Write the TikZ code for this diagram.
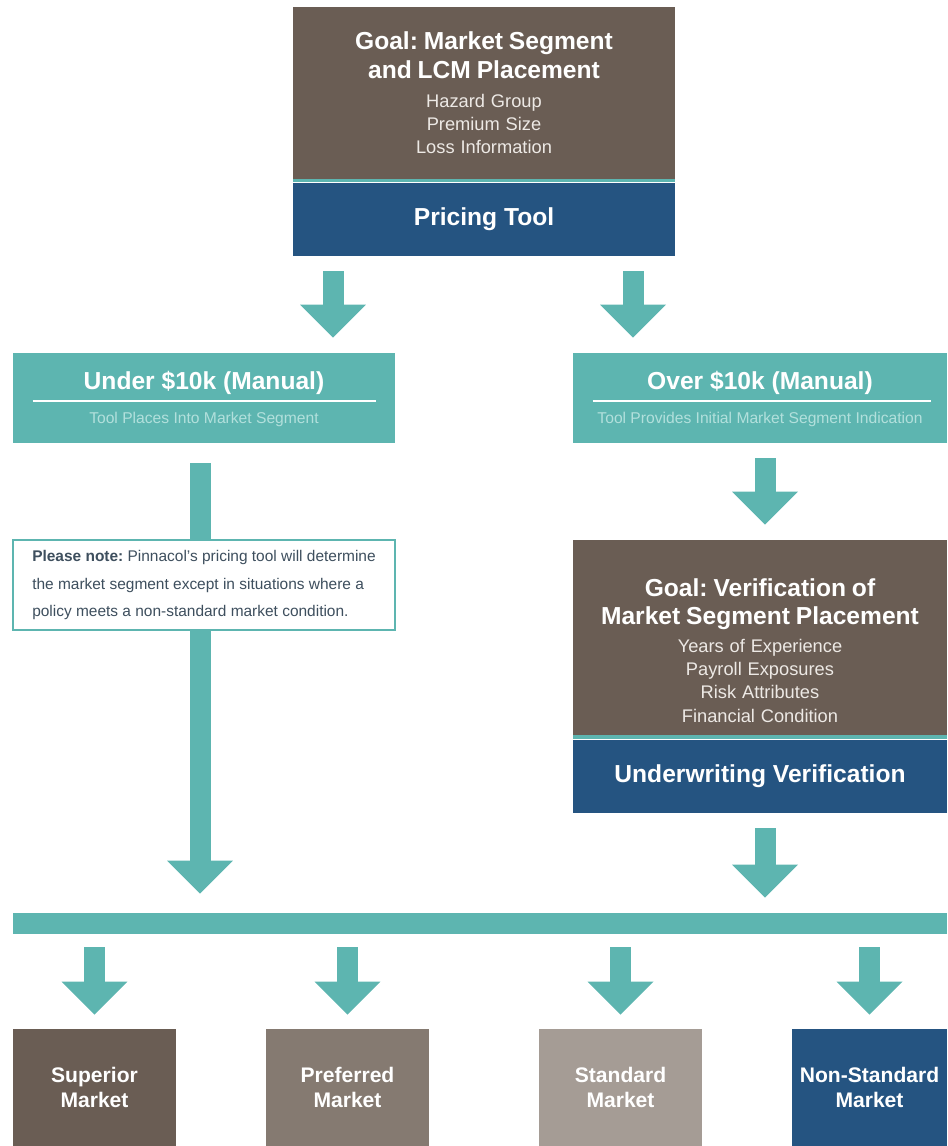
\documentclass[tikz,border=0pt]{standalone}
\usepackage{fontspec}
\setmainfont{Liberation Sans}
\usetikzlibrary{arrows.meta,positioning,calc}
\frenchspacing

\definecolor{goalbrown}{HTML}{6A5D54}
\definecolor{prefbrown}{HTML}{857A71}
\definecolor{stdgray}{HTML}{A59C95}
\definecolor{toolblue}{HTML}{255481}
\definecolor{flowteal}{HTML}{5DB5B0}
\definecolor{subteal}{HTML}{B2E0DC}
\definecolor{notetext}{HTML}{3E4F5E}
\definecolor{itemgray}{HTML}{EDE9E5}

\newcommand{\headfont}{\fontsize{14}{16}\selectfont\bfseries}
\newcommand{\itemfont}{\fontsize{10.4}{13.2}\selectfont\color{itemgray}}

\begin{document}
\begin{tikzpicture}[x=0.02cm, y=-0.02cm,
  box/.style={rectangle, inner sep=0pt, align=center, text=white},
  goalbox/.style={box, fill=goalbrown},
  bluebox/.style={box, fill=toolblue, minimum height=1.46cm, font=\headfont},
  casebox/.style={box, fill=flowteal, minimum height=1.8cm},
  casehead/.style={anchor=base, inner sep=0pt, text=white, font=\headfont},
  casesub/.style={anchor=base, inner sep=0pt, text=subteal, font=\fontsize{8.9}{10}\selectfont},
  notebox/.style={rectangle, fill=white, draw=flowteal, line width=0.04cm, minimum width=7.64cm, minimum height=1.8cm, inner sep=0pt, align=left, text=notetext, font=\fontsize{8.8}{15.5}\selectfont},
  mktbox/.style={box, minimum width=3.26cm, minimum height=2.34cm, font=\fontsize{12}{14.2}\selectfont\bfseries},
  flow/.style={draw=flowteal, line width=0.42cm, -{Triangle[width=1.32cm, length=0.66cm, line width=0pt]}},
]
\useasboundingbox (0,0) rectangle (947,1146);

% columns of the block arrows
\coordinate (colA) at (333,0);
\coordinate (colB) at (633,0);
\coordinate (colL) at (200,0);
\coordinate (colR) at (765,0);

% pricing
\node[goalbox, minimum width=7.64cm, text width=7.64cm, minimum height=3.44cm] (goal) at (484,93) {{\headfont Goal: Market Segment\\and LCM Placement\par}\vspace{3.5pt}{\itemfont Hazard Group\\Premium Size\\Loss Information\par}};
\node[bluebox, minimum width=7.64cm, below=0.06cm of goal] (tool) {Pricing Tool};
\fill[flowteal] (goal.south west) rectangle (tool.north east);

% the two cases
\node[casebox, minimum width=7.64cm] (under) at (204,398) {};
\node[casehead] (underT) at ($(under.center)+(0,-9)$) {Under \$10k (Manual)};
\draw[white, line width=0.04cm] ($(under.west)+(20,3)$) -- ($(under.east)+(-19,3)$);
\node[casesub] (underS) at ($(under.center)+(0,25.5)$) {Tool Places Into Market Segment};

\node[casebox, minimum width=7.48cm] (over) at (760,398) {};
\node[casehead] (overT) at ($(over.center)+(0,-9)$) {Over \$10k (Manual)};
\draw[white, line width=0.04cm] ($(over.west)+(20,3)$) -- ($(over.east)+(-16,3)$);
\node[casesub] (overS) at ($(over.center)+(0,25.5)$) {Tool Provides Initial Market Segment Indication};

% verification
\node[goalbox, minimum width=7.48cm, text width=7.48cm, minimum height=3.9cm] (verify) at (760,637.5) {{\headfont\rule{0pt}{25pt}Goal: Verification of\\Market Segment Placement\par}\vspace{2.5pt}{\itemfont Years of Experience\\Payroll Exposures\\Risk Attributes\\Financial Condition\par}};
\node[bluebox, minimum width=7.48cm, below=0.08cm of verify] (uw) {Underwriting Verification};
\fill[flowteal] (verify.south west) rectangle (uw.north east);

% collecting bar and markets
\node[box, fill=flowteal, minimum width=18.68cm, minimum height=0.42cm] (bar) at (480,923.5) {};

\node[mktbox, fill=goalbrown] (sup) at (94.5,1087.5) {Superior\\Market};
\node[mktbox, fill=prefbrown] (pref) at (347.5,1087.5) {Preferred\\Market};
\node[mktbox, fill=stdgray] (std) at (620.5,1087.5) {Standard\\Market};
\node[mktbox, fill=toolblue, minimum width=3.1cm] (nonstd) at (869.5,1087.5) {Non-Standard\\Market};

% arrows
\draw[flow, shorten <=0.3cm, shorten >=0.3cm] (tool.south -| colA) -- (under.north -| colA);
\draw[flow, shorten <=0.3cm, shorten >=0.3cm] (tool.south -| colB) -- (over.north -| colB);
\draw[flow, shorten <=0.3cm, shorten >=0.3cm] (over.south -| colR) -- (verify.north -| colR);
\draw[flow, shorten <=0.3cm, shorten >=0.3cm] (uw.south -| colR) -- (bar.north -| colR);
\draw[flow, shorten <=0.4cm, shorten >=0.38cm] (under.south -| colL) -- (bar.north -| colL);
\foreach \m in {sup,pref,std,nonstd}
  \draw[flow, shorten <=0.26cm, shorten >=0.28cm] (bar.south -| \m.north) -- (\m.north);

% note over the long arrow
\node[notebox] (note) at (204,585) {\textbf{Please note:} Pinnacol's pricing tool will determine\\the market segment except in situations where a\\policy meets a non-standard market condition.};
\end{tikzpicture}
\end{document}
